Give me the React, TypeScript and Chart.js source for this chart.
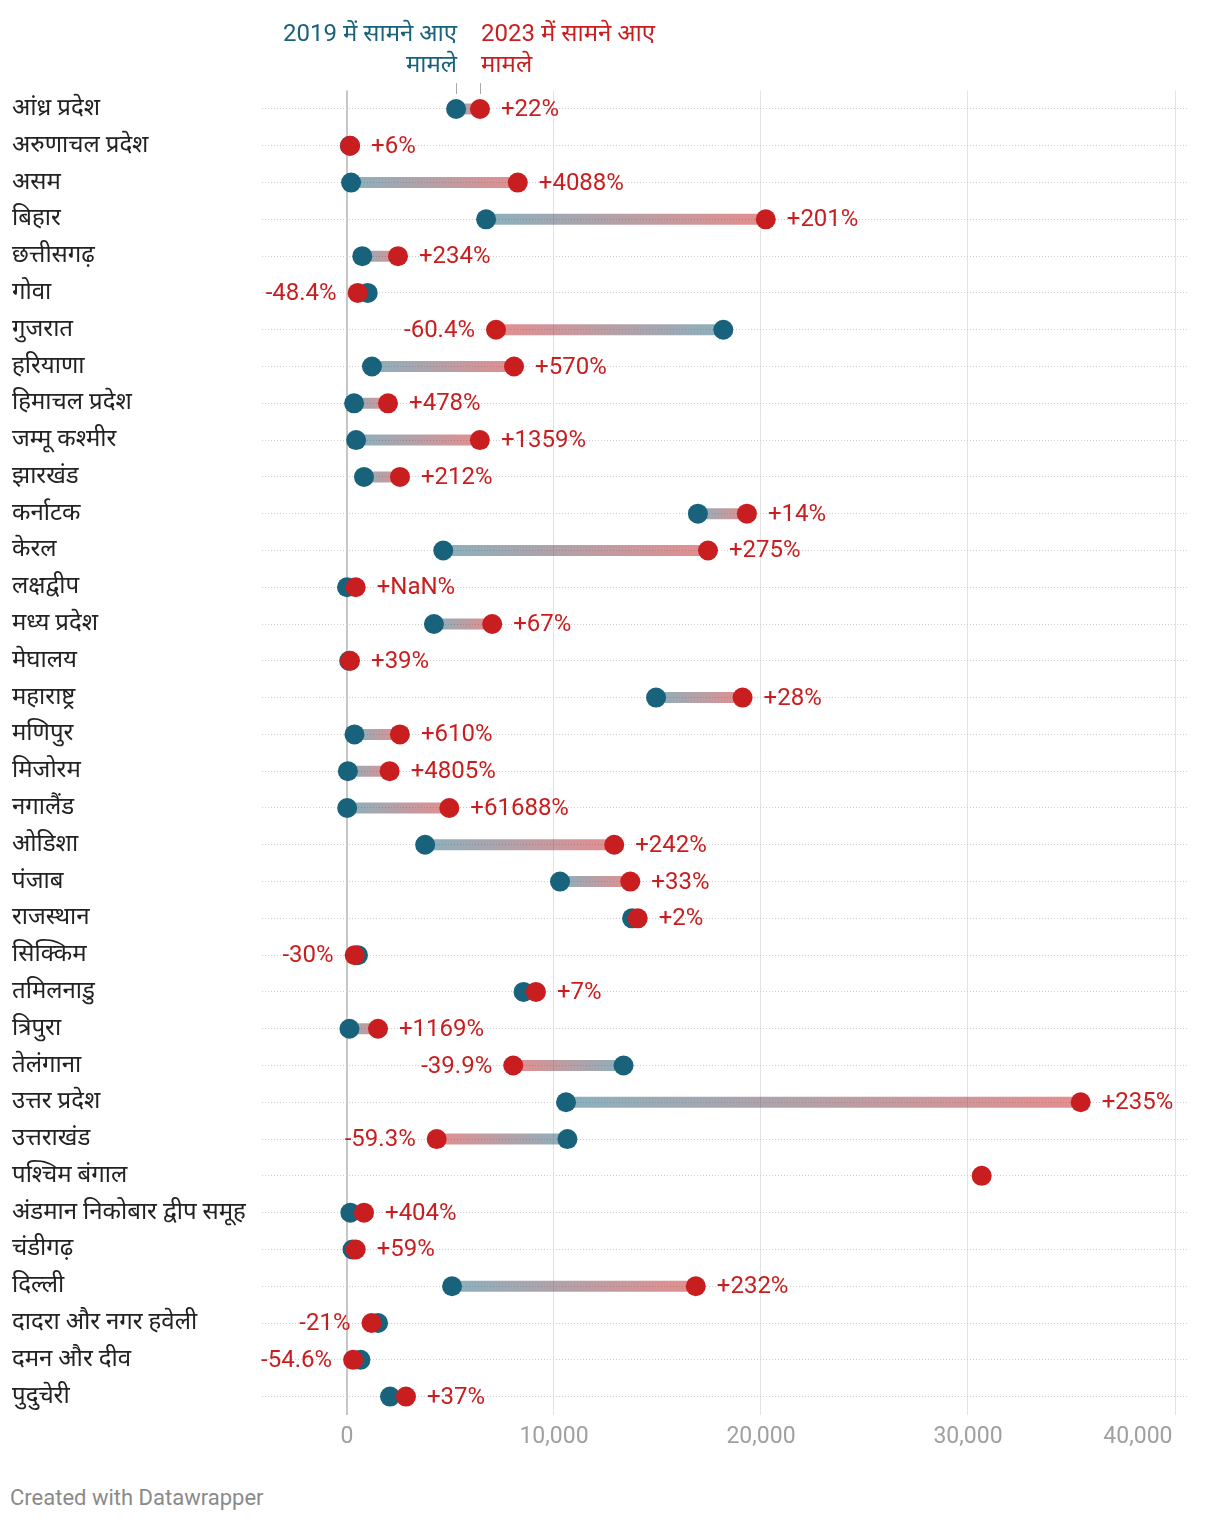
import React, { useEffect, useRef } from "react";
import { Chart, registerables } from "chart.js";

Chart.register(...registerables);

const states: string[] = [
  "आंध्र प्रदेश",
  "अरुणाचल प्रदेश",
  "असम",
  "बिहार",
  "छत्तीसगढ़",
  "गोवा",
  "गुजरात",
  "हरियाणा",
  "हिमाचल प्रदेश",
  "जम्मू कश्मीर",
  "झारखंड",
  "कर्नाटक",
  "केरल",
  "लक्षद्वीप",
  "मध्य प्रदेश",
  "मेघालय",
  "महाराष्ट्र",
  "मणिपुर",
  "मिजोरम",
  "नगालैंड",
  "ओडिशा",
  "पंजाब",
  "राजस्थान",
  "सिक्किम",
  "तमिलनाडु",
  "त्रिपुरा",
  "तेलंगाना",
  "उत्तर प्रदेश",
  "उत्तराखंड",
  "पश्चिम बंगाल",
  "अंडमान निकोबार द्वीप समूह",
  "चंडीगढ़",
  "दिल्ली",
  "दादरा और नगर हवेली",
  "दमन और दीव",
  "पुदुचेरी",
];

const cases2019: (number | null)[] = [
  5270, 140, 197, 6720, 738, 1000, 18180, 1205, 343, 440, 820, 16950, 4650, 0,
  4200, 105, 14930, 360, 42, 8, 3775, 10290, 13770, 530, 8530, 118, 13360,
  10580, 10650, null, 163, 265, 5075, 1500, 650, 2080,
];

const cases2023: (number | null)[] = [
  6425, 148, 8250, 20230, 2464, 516, 7199, 8070, 1982, 6420, 2560, 19320, 17440,
  420, 7015, 146, 19110, 2556, 2060, 4943, 12910, 13686, 14045, 371, 9127, 1498,
  8030, 35443, 4334, 30660, 822, 421, 16850, 1185, 295, 2850,
];

const changeLabels: string[] = [
  "+22%", "+6%", "+4088%", "+201%", "+234%", "-48.4%", "-60.4%", "+570%",
  "+478%", "+1359%", "+212%", "+14%", "+275%", "+NaN%", "+67%", "+39%", "+28%",
  "+610%", "+4805%", "+61688%", "+242%", "+33%", "+2%", "-30%", "+7%", "+1169%",
  "-39.9%", "+235%", "-59.3%", "", "+404%", "+59%", "+232%", "-21%", "-54.6%",
  "+37%",
];

const xTickValues: number[] = [0, 10000, 20000, 30000, 40000];

const legend2019: string[] = ["2019 में सामने आए", "मामले"];
const legend2023: string[] = ["2023 में सामने आए", "मामले"];

const BLUE = "#18627c";
const RED = "#c91e1f";
const BLUE_A = "rgba(24,98,124,0.5)";
const RED_A = "rgba(201,30,31,0.5)";
const FONT = "Roboto, 'Noto Sans', 'DejaVu Sans', sans-serif";

export default function App() {
  const canvasRef = useRef<HTMLCanvasElement | null>(null);

  useEffect(() => {
    const canvas = canvasRef.current;
    if (!canvas) return;

    const lineDatasets: any[] = [];
    states.forEach((s, i) => {
      const b = cases2019[i];
      const r = cases2023[i];
      if (b == null || r == null) return;
      lineDatasets.push({
        type: "scatter",
        showLine: true,
        data: [
          { x: b, y: s },
          { x: r, y: s },
        ],
        pointRadius: 0,
        pointHoverRadius: 0,
        borderWidth: 11,
        borderCapStyle: "butt",
        order: 3,
        borderColor: (ctx: any) => {
          const chart = ctx.chart;
          const xs = chart.scales && chart.scales.x;
          if (!chart.chartArea || !xs) return BLUE_A;
          const xb = xs.getPixelForValue(b);
          const xr = xs.getPixelForValue(r);
          if (Math.abs(xr - xb) < 0.5) return RED_A;
          const g = chart.ctx.createLinearGradient(xb, 0, xr, 0);
          g.addColorStop(0, BLUE_A);
          g.addColorStop(1, RED_A);
          return g;
        },
      });
    });

    const redPoints = states
      .map((s, i) => (cases2023[i] == null ? null : { x: cases2023[i] as number, y: s }))
      .filter((p) => p !== null);
    const bluePoints = states
      .map((s, i) => (cases2019[i] == null ? null : { x: cases2019[i] as number, y: s }))
      .filter((p) => p !== null);

    const labelPlugin = {
      id: "dumbbellLabels",
      afterDatasetsDraw(chart: any) {
        const { ctx } = chart;
        const xs = chart.scales.x;
        const ys = chart.scales.y;
        ctx.save();
        ctx.font = `24px ${FONT}`;
        ctx.fillStyle = RED;
        ctx.textBaseline = "middle";
        states.forEach((s, i) => {
          const txt = changeLabels[i];
          if (!txt) return;
          const b = cases2019[i];
          const r = cases2023[i] as number;
          const y = ys.getPixelForValue(i) + 1;
          const xr = xs.getPixelForValue(r);
          const xb = b == null ? xr : xs.getPixelForValue(b);
          if (b != null && r < b) {
            ctx.textAlign = "right";
            ctx.fillText(txt, Math.min(xr, xb) - 21, y);
          } else {
            ctx.textAlign = "left";
            ctx.fillText(txt, Math.max(xr, xb) + 21, y);
          }
        });

        // header legend tied to first row's points
        const bx = xs.getPixelForValue(cases2019[0] as number);
        const rx = xs.getPixelForValue(cases2023[0] as number);
        ctx.font = `24px ${FONT}`;
        ctx.textAlign = "right";
        ctx.fillStyle = BLUE;
        ctx.fillText(legend2019[0], bx + 1, 35);
        ctx.fillText(legend2019[1], bx + 1, 66);
        ctx.textAlign = "left";
        ctx.fillStyle = RED;
        ctx.fillText(legend2023[0], rx + 1, 35);
        ctx.fillText(legend2023[1], rx + 1, 66);
        ctx.strokeStyle = "#aaaaaa";
        ctx.lineWidth = 1;
        ctx.beginPath();
        ctx.moveTo(Math.round(bx) + 0.5, 83);
        ctx.lineTo(Math.round(bx) + 0.5, 94);
        ctx.moveTo(Math.round(rx) + 0.5, 83);
        ctx.lineTo(Math.round(rx) + 0.5, 94);
        ctx.stroke();
        ctx.restore();
      },
    };

    const chart = new Chart(canvas, {
      type: "scatter",
      data: {
        datasets: [
          {
            data: redPoints as any,
            backgroundColor: RED,
            borderWidth: 0,
            pointRadius: 10,
            pointHoverRadius: 10,
            order: 1,
          },
          {
            data: bluePoints as any,
            backgroundColor: BLUE,
            borderWidth: 0,
            pointRadius: 10,
            pointHoverRadius: 10,
            order: 2,
          },
          ...lineDatasets,
        ],
      },
      options: {
        responsive: false,
        animation: false,
        events: [],
        layout: { padding: { left: 12, right: 32, top: 90.6, bottom: 0 } },
        plugins: {
          legend: { display: false },
          tooltip: { enabled: false },
          title: { display: false },
        },
        scales: {
          x: {
            type: "linear",
            min: -4106,
            max: 40628,
            border: { display: false },
            grid: {
              drawTicks: false,
              color: (c: any) => (c.tick && c.tick.value === 0 ? "#c6c6c6" : "#e3e3e3"),
              lineWidth: (c: any) => (c.tick && c.tick.value === 0 ? 2 : 1),
            },
            afterBuildTicks: (scale: any) => {
              scale.ticks = xTickValues.map((v) => ({ value: v }));
            },
            afterFit: (scale: any) => {
              scale.height = 45;
              scale.paddingLeft = 0;
              scale.paddingRight = 0;
            },
            ticks: {
              padding: 8,
              color: "#a0a0a0",
              font: { size: 23, family: FONT },
              maxRotation: 0,
              autoSkip: false,
              callback: (v: any) => {
                const s = Number(v).toLocaleString("en-US");
                return Number(v) === xTickValues[xTickValues.length - 1]
                  ? s + "\u00a0".repeat(13)
                  : s;
              },
            },
          },
          y: {
            type: "category",
            labels: states,
            offset: true,
            border: { display: false, dash: [1, 2] },
            grid: {
              drawTicks: false,
              color: "#cccccc",
              lineWidth: 1,
              offset: false,
            },
            afterFit: (scale: any) => {
              scale.width = 250;
              scale.paddingTop = 0;
              scale.paddingBottom = 0;
            },
            ticks: {
              crossAlign: "far",
              color: "#222222",
              font: { size: 24, family: FONT },
              autoSkip: false,
            },
          },
        },
      },
      plugins: [labelPlugin],
    } as any);

    return () => chart.destroy();
  }, []);

  return (
    <div style={{ position: "absolute", left: 0, top: 0, width: 1220, height: 1524, background: "#fff" }}>
      <canvas
        ref={canvasRef}
        width={1220}
        height={1460}
        style={{ display: "block", width: 1220, height: 1460 }}
      />
      <div
        style={{
          position: "absolute",
          left: 10,
          top: 1485,
          fontFamily: FONT,
          fontSize: 22,
          color: "#8a8a8a",
        }}
      >
        Created with Datawrapper
      </div>
    </div>
  );
}
